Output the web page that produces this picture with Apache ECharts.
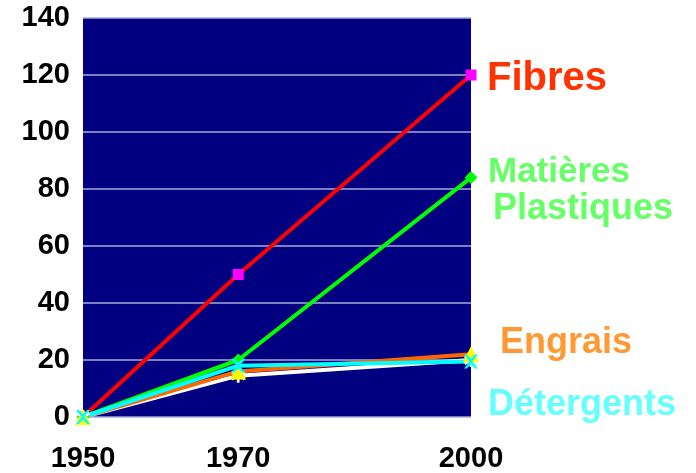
<!DOCTYPE html>
<html><head><meta charset="utf-8">
<script src="https://cdn.jsdelivr.net/npm/echarts@6/dist/echarts.min.js"></script>
<style>html,body{margin:0;padding:0;background:#fff}#c{width:696px;height:473px}</style>
</head><body><div id="c"></div>
<script>
const years = [1950, 1970, 2000];
const yearTicks = [1950, 1970, 2000];
const fibres = [0, 50, 120];
const plastiques = [0, 20, 84];
const engrais = [0, 16, 22];
const detergents = [0, 18, 19.5];
const autre = [0, 14.5, 20];
const names = ['Fibres', 'Matières Plastiques', 'Engrais', 'Détergents', ''];

const pair = v => years.map((y, i) => [y, v[i]]);
const X = 'path://M0,0L2,0L5,3L8,0L10,0L6,5L10,10L8,10L5,7L2,10L0,10L4,5Z';
const STAR = 'path://M4,0L6,0L6,3.5L9,1.5L10,3.2L7,5L10,6.8L9,8.5L6,6.5L6,10L4,10L4,6.5L1,8.5L0,6.8L3,5L0,3.2L1,1.5L4,3.5Z';
const font = 'Liberation Sans, Arial, sans-serif';

function mk(name, data, line, mark, sym, size, lbl) {
  const s = {
    name, type: 'line', data: pair(data), symbol: sym, symbolSize: size,
    lineStyle: {color: line, width: 4}, itemStyle: {color: mark},
    z: 2
  };
  if (lbl) {
    s.endLabel = Object.assign({show: true, formatter: name, fontFamily: font, fontWeight: 'bold', align: 'left', verticalAlign: 'middle'}, lbl);
  }
  return s;
}

const chart = echarts.init(document.getElementById('c'));
chart.setOption({
  animation: false,
  grid: {left: 83, right: 225, top: 18, bottom: 55, show: true, backgroundColor: '#000080', borderWidth: 0},
  xAxis: {
    type: 'value', min: 1950, max: 2000, interval: 10,
    axisLine: {show: false}, axisTick: {show: false}, splitLine: {show: false},
    axisLabel: {customValues: yearTicks, formatter: v => String(v), color: '#000', fontFamily: font, fontWeight: 'bold', fontSize: 29, margin: 27}
  },
  yAxis: {
    type: 'value', min: 0, max: 140, interval: 20,
    axisLine: {show: false}, axisTick: {show: false},
    splitLine: {lineStyle: {color: '#A8A8D8', width: 1.5}},
    axisLabel: {color: '#000', fontFamily: font, fontWeight: 'bold', fontSize: 29, margin: 13}
  },
  series: [
    mk(names[0], fibres, '#FF0000', '#FF00FF', 'rect', 11, {color: '#FF3300', fontSize: 40, offset: [8, 4]}),
    mk(names[1], plastiques, '#00FF00', '#00FF00', 'diamond', 13, {
      formatter: '{a|Matières}\n{b|Plastiques}', offset: [9, 13],
      rich: {
        a: {color: '#66FF66', fontSize: 35, fontWeight: 'bold', fontFamily: font, lineHeight: 37},
        b: {color: '#66FF66', fontSize: 36, fontWeight: 'bold', fontFamily: font, lineHeight: 37, padding: [0, 0, 0, 5]}
      }
    }),
    mk('', autre, '#FFFFFF', '#FFFFFF', STAR, 14, null),
    mk(names[2], engrais, '#FF6600', '#FFFF00', 'triangle', 16, {color: '#FF9933', fontSize: 36, offset: [21, -11]}),
    mk(names[3], detergents, '#00FFFF', '#00FFFF', X, 14, {color: '#66FFFF', fontSize: 36, offset: [9, 44]})
  ]
});
</script></body></html>
